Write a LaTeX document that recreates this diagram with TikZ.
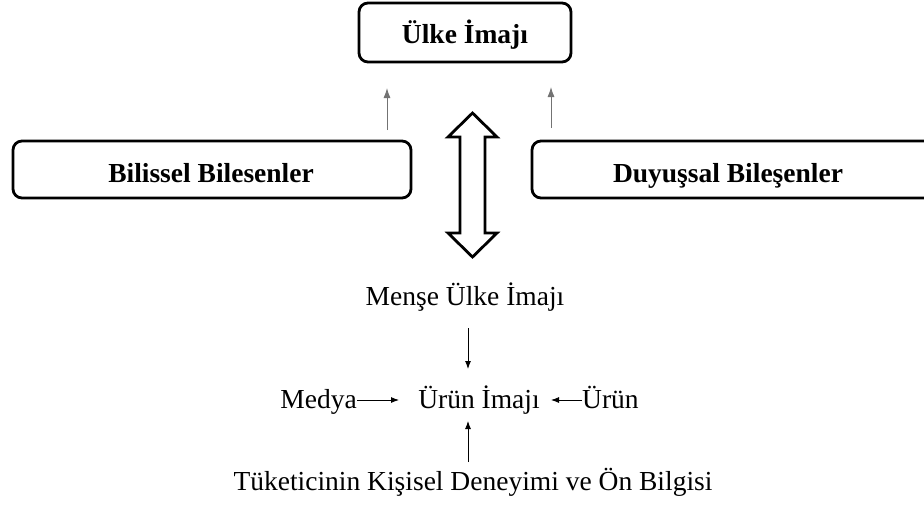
\documentclass[tikz,border=0pt]{standalone}
\usepackage{fontspec}
\setmainfont{Liberation Serif}
\usetikzlibrary{arrows.meta}
\begin{document}
\begin{tikzpicture}[x=1pt,y=-1pt,
  frame/.style={draw, line width=2.8pt, rounded corners=9pt},
  boxtext/.style={font=\fontsize{27.5}{32}\selectfont\bfseries, anchor=base, inner sep=0pt},
  plain/.style={font=\fontsize{27.5}{32}\selectfont, anchor=base, inner sep=0pt},
  thin/.style={line width=0.9pt, -{Latex[length=8pt,width=6pt]}},
  greyarrow/.style={thin, draw=black!55, -{Latex[length=10pt,width=7pt]}}
]
\useasboundingbox (0,0) rectangle (924,515);
\clip (0,0) rectangle (924,515);

% framed headings
\draw[frame] (359,3) rectangle (571,62);
\node[boxtext] (ulke) at (465,43) {Ülke İmajı};
\coordinate (ulkeL) at (387,88);
\coordinate (ulkeR) at (551,87);

\draw[frame] (13,141) rectangle (411,198);
\node[boxtext] (bil) at (211,182) {Bilissel Bilesenler};
\coordinate (bilT) at (387,130);

\draw[frame] (532,141) rectangle (960,198);
\node[boxtext] (duy) at (728,182) {Duyuşsal Bileşenler};
\coordinate (duyT) at (551,128);

\draw[greyarrow] (bilT) -- (ulkeL);
\draw[greyarrow] (duyT) -- (ulkeR);

% hollow two-headed arrow
\draw[line width=2.8pt, line join=miter]
  (472.5,113) -- (497,137) -- (485,137) -- (485,233) -- (497,233)
  -- (472.5,257) -- (448,233) -- (460,233) -- (460,137) -- (448,137) -- cycle;

% lower chain
\node[plain] (mense) at (465,305) {Menşe Ülke İmajı};
\node[plain] (urunim) at (479,408) {Ürün İmajı};
\node[plain, anchor=base east] (medya) at (357,408) {Medya};
\node[plain, anchor=base west] (urun) at (582,408) {Ürün};
\node[plain] (tuk) at (473,490) {Tüketicinin Kişisel Deneyimi ve Ön Bilgisi};

\coordinate (mA) at (468,328);
\coordinate (mB) at (468,369);
\draw[thin] (mA) -- (mB);
\coordinate (medR) at (357,400);
\coordinate (imL) at (399,400);
\draw[thin] (medR) -- (imL);
\coordinate (urL) at (582,400);
\coordinate (imR) at (551,400);
\draw[thin] (urL) -- (imR);
\coordinate (tA) at (468,462);
\coordinate (tB) at (468,421);
\draw[thin] (tA) -- (tB);
\end{tikzpicture}
\end{document}
